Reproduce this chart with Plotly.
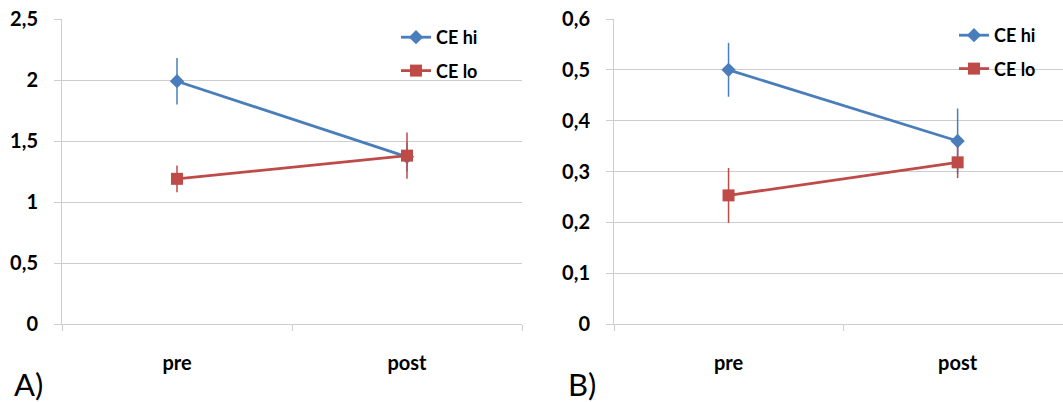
import plotly.graph_objects as go

categories = ["pre", "post"]

# Panel A
a_hi = [1.99, 1.37]
a_hi_err = [0.19, 0.12]
a_lo = [1.19, 1.38]
a_lo_err = [0.11, 0.19]
a_ticks = [0, 0.5, 1, 1.5, 2, 2.5]
a_ticktext = ["0", "0,5", "1", "1,5", "2", "2,5"]

# Panel B
b_hi = [0.50, 0.360]
b_hi_err = [0.053, 0.064]
b_lo = [0.253, 0.318]
b_lo_err = [0.054, 0.031]
b_ticks = [0, 0.1, 0.2, 0.3, 0.4, 0.5, 0.6]
b_ticktext = ["0", "0,1", "0,2", "0,3", "0,4", "0,5", "0,6"]

BLUE = "#4A7EBB"
RED = "#BE4B48"
GRID = "#CDCDCD"
FONT = "Lato"

W, H = 1063, 402
TOP, BOT = 19, 324  # plot area pixel rows


def px_x(px):
    return px / W


def px_y(py):
    return (BOT - py) / (BOT - TOP)


fig = go.Figure()


def add_pair(hi, hi_err, lo, lo_err, xa, ya, leg):
    fig.add_trace(go.Scatter(
        x=categories, y=hi, name="CE hi", mode="lines+markers",
        line=dict(color=BLUE, width=2.8),
        marker=dict(symbol="diamond", size=11, color=BLUE),
        error_y=dict(type="data", array=hi_err, visible=True, color=BLUE, thickness=1.5, width=0),
        xaxis=xa, yaxis=ya, legend=leg, legendgroup=leg + "hi"))
    fig.add_trace(go.Scatter(
        x=categories, y=lo, name="CE lo", mode="lines+markers",
        line=dict(color=RED, width=2.8),
        marker=dict(symbol="square", size=12, color=RED),
        error_y=dict(type="data", array=lo_err, visible=True, color=RED, thickness=1.5, width=0),
        xaxis=xa, yaxis=ya, legend=leg, legendgroup=leg + "lo"))


add_pair(a_hi, a_hi_err, a_lo, a_lo_err, "x", "y", "legend")
add_pair(b_hi, b_hi_err, b_lo, b_lo_err, "x2", "y2", "legend2")

xcommon = dict(type="category", showline=True, linecolor=GRID, linewidth=1,
               ticks="outside", tickson="boundaries", ticklen=6, tickcolor=GRID,
               showgrid=False, zeroline=False, automargin=False,
               tickfont=dict(family=FONT, size=20, color="#000000", weight="bold"),
               ticklabelstandoff=21)
ycommon = dict(showline=True, linecolor=GRID, linewidth=1, ticks="outside", ticklen=7,
               tickcolor=GRID, showgrid=True, gridcolor=GRID, gridwidth=1, zeroline=False,
               automargin=False,
               tickfont=dict(family=FONT, size=20, color="#000000", weight="bold"),
               ticklabelstandoff=12)

legcommon = dict(font=dict(family=FONT, size=18, color="#000000", weight="bold"),
                 bgcolor="rgba(0,0,0,0)", xref="paper", yref="paper",
                 xanchor="left", yanchor="top", tracegroupgap=7, traceorder="grouped",
                 itemwidth=30)

fig.update_layout(
    width=W, height=H,
    margin=dict(l=0, r=0, t=TOP, b=H - BOT, autoexpand=False),
    plot_bgcolor="white", paper_bgcolor="white",
    showlegend=True,
    xaxis=dict(domain=[62 / W, 522 / W], range=[-0.5, 1.5], anchor="y", **xcommon),
    yaxis=dict(range=[0, 2.5], tickvals=a_ticks, ticktext=a_ticktext, anchor="x", **ycommon),
    xaxis2=dict(domain=[614 / W, 1.0], range=[-0.5, 1.46], anchor="y2", **xcommon),
    yaxis2=dict(range=[0, 0.6], tickvals=b_ticks, ticktext=b_ticktext, anchor="x2", **ycommon),
    legend=dict(x=px_x(396), y=px_y(19), **legcommon),
    legend2=dict(x=px_x(954), y=px_y(17), **legcommon),
    annotations=[
        dict(text="A)", x=px_x(12), y=px_y(384), xref="paper", yref="paper",
             xanchor="left", yanchor="middle", showarrow=False,
             font=dict(family=FONT, size=31, color="#000000")),
        dict(text="B)", x=px_x(566), y=px_y(384), xref="paper", yref="paper",
             xanchor="left", yanchor="middle", showarrow=False,
             font=dict(family=FONT, size=31, color="#000000")),
    ],
)

fig.write_html("out.html")
